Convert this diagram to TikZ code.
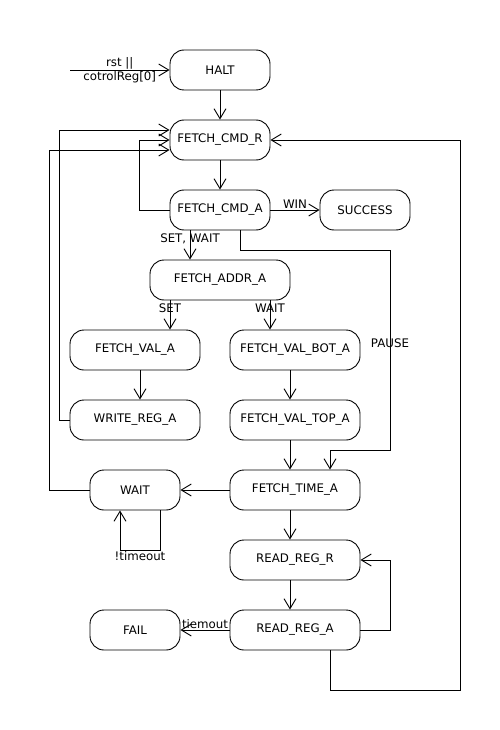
\documentclass[tikz,border=0pt]{standalone}
\usepackage{fontspec}
\setmainfont{DejaVu Sans}
\usetikzlibrary{arrows.meta}

\tikzset{
  state/.style={draw, line width=0.9pt, rounded corners=14pt, minimum height=40pt, inner sep=0pt, font=\fontsize{11.8}{14}\selectfont},
  trans/.style={-{Straight Barb[length=10pt,width=12pt]}, line width=0.9pt},
  lbl/.style={inner sep=1pt, font=\fontsize{11.8}{14}\selectfont},
}

\begin{document}
\begin{tikzpicture}[x=1pt, y=-1pt]
    \useasboundingbox (0,0) rectangle (500,730);
    % States
    \node[state, minimum width=100pt] (halt) at (220,70) {HALT};
    \node[state, minimum width=100pt] (fcmdr) at (220,140) {FETCH\_CMD\_R};
    \node[state, minimum width=100pt] (fcmda) at (220,210) {FETCH\_CMD\_A};
    \node[state, minimum width=90pt] (succ) at (365,210) {SUCCESS};
    \node[state, minimum width=140pt] (fadr) at (220,280) {FETCH\_ADDR\_A};
    \node[state, minimum width=130pt] (fval) at (135,350) {FETCH\_VAL\_A};
    \node[state, minimum width=130pt] (fbot) at (295,350) {FETCH\_VAL\_BOT\_A};
    \node[state, minimum width=130pt] (wreg) at (135,420) {WRITE\_REG\_A};
    \node[state, minimum width=130pt] (ftop) at (295,420) {FETCH\_VAL\_TOP\_A};
    \node[state, minimum width=90pt] (wait) at (135,490) {WAIT};
    \node[state, minimum width=130pt] (ftime) at (295,490) {FETCH\_TIME\_A};
    \node[state, minimum width=130pt] (rregr) at (295,560) {READ\_REG\_R};
    \node[state, minimum width=130pt] (rrega) at (295,630) {READ\_REG\_A};
    \node[state, minimum width=90pt] (fail) at (135,630) {FAIL};
    % Initial transition
    \coordinate (init) at (70,70);
    \draw[trans] (init) -- node[lbl, align=center] {rst ||\\cotrolReg[0]} (halt.west);
    % Main column
    \draw[trans] (halt) -- (fcmdr);
    \draw[trans] (fcmdr) -- (fcmda);
    \draw[trans] (fcmda) -- node[lbl, above] {WIN} (succ);
    \draw[trans] (fcmda.west) -- ++(-30,0) |- (fcmdr.west);
    \draw[trans] ([xshift=-30]fcmda.south) -- node[lbl, pos=0.27] {SET, WAIT} ([xshift=-30]fcmda.south |- fadr.north);
    \draw[trans] ([xshift=20]fcmda.south) -- ++(0,20) -- ++(150,0) -- node[lbl, pos=0.465] {PAUSE} ++(0,200) -| ([xshift=35]ftime.north);
    % Branches of FETCH_ADDR_A
    \draw[trans] ([xshift=-50]fadr.south) -- node[lbl, pos=0.27] {SET} ([xshift=-50]fadr.south |- fval.north);
    \draw[trans] ([xshift=50]fadr.south) -- node[lbl, pos=0.27] {WAIT} ([xshift=50]fadr.south |- fbot.north);
    \draw[trans] ([xshift=5]fval.south) -- ([xshift=5]wreg.north);
    \draw[trans] ([xshift=-5]fbot.south) -- ([xshift=-5]ftop.north);
    \draw[trans] ([xshift=-5]ftop.south) -- ([xshift=-5]ftime.north);
    \draw[trans] (wreg.west) -- ++(-10,0) |- ([yshift=10]fcmdr.west);
    % Waiting
    \draw[trans] (ftime) -- (wait);
    \draw[trans] ([xshift=25]wait.south) -- ++(0,40) -| node[lbl, pos=0.25, below] {!timeout} ([xshift=-15]wait.south);
    \draw[trans] (wait.west) -- ++(-40,0) |- ([yshift=-10]fcmdr.west);
    % Reading
    \draw[trans] ([xshift=-5]ftime.south) -- ([xshift=-5]rregr.north);
    \draw[trans] ([xshift=-5]rregr.south) -- ([xshift=-5]rrega.north);
    \draw[trans] (rrega.east) -- ++(30,0) |- (rregr.east);
    \draw[trans] (rrega) -- node[lbl, above] {tiemout} (fail);
    \draw[trans] ([xshift=35]rrega.south) -- ++(0,40) -- ++(130,0) |- (fcmdr.east);
\end{tikzpicture}
\end{document}
